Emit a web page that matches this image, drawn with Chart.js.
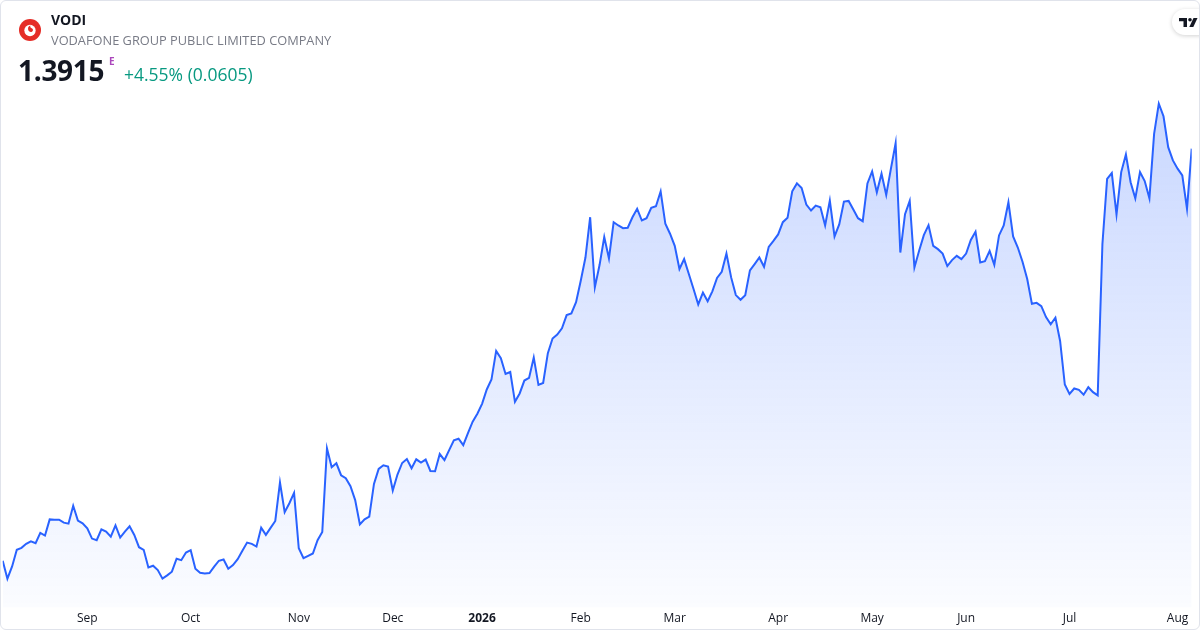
<!DOCTYPE html>
<html>
<head>
<meta charset="utf-8">
<script src="https://cdn.jsdelivr.net/npm/chart.js@4.4.1/dist/chart.umd.min.js"></script>
<style>
  html, body { margin: 0; padding: 0; background: #fff; }
  body { width: 1200px; height: 630px; overflow: hidden; font-family: "Open Sans", "Noto Sans", sans-serif; }
  #card { position: absolute; left: 0; top: 0; width: 1198px; height: 628px; border: 1px solid #e0e3eb; border-radius: 6px; overflow: hidden; background: #fff; }
  #c { position: absolute; left: 0; top: 0; }
  .t { position: absolute; white-space: nowrap; }
  #sym { left: 50px; top: 10px; font-size: 14px; font-weight: 700; color: #131722; line-height: 18px; }
  #name { left: 50px; top: 31px; font-size: 12.8px; color: #787b86; line-height: 17px; }
  #price { left: 17px; top: 52px; font-size: 28px; font-weight: 700; color: #131722; line-height: 34px; letter-spacing: -0.3px; }
  #e { left: 108px; top: 54px; font-size: 10px; font-weight: 700; color: #ab47bc; line-height: 12px; }
  #chg { left: 123px; top: 61px; font-size: 17.5px; color: #089981; line-height: 24px; }
  #logo { position: absolute; left: 18px; top: 18px; }
  #tv { position: absolute; left: 1171px; top: 8px; width: 40px; height: 26px; background: #fff; border-radius: 13px; box-shadow: 0 1px 4px rgba(0,0,0,0.18); }
  #tv svg { position: absolute; left: 7px; top: 9px; }
</style>
</head>
<body>
<div id="card">
  <canvas id="c" width="1200" height="630"></canvas>
  <svg id="logo" width="22" height="22" viewBox="0 0 24 24">
    <circle cx="12" cy="12" r="12" fill="#e52d27"/>
    <circle cx="12" cy="12.6" r="6.2" fill="#fff"/>
    <path d="M12.6 7.2 C10.8 7.4 9.6 9.2 9.9 11.2 C10.2 13.3 12.0 14.6 13.6 14.2 C15.0 13.8 15.6 12.3 15.0 11.0 C14.3 9.8 12.4 9.9 12.2 8.4 Z" fill="#e52d27"/>
  </svg>
  <div class="t" id="sym">VODI</div>
  <div class="t" id="name">VODAFONE GROUP PUBLIC LIMITED COMPANY</div>
  <div class="t" id="price">1.3915</div>
  <div class="t" id="e">E</div>
  <div class="t" id="chg">+4.55% (0.0605)</div>
  <div id="tv">
    <svg width="22" height="9" viewBox="0 0 22 9">
      <path d="M0 0 H8 V9 H4.5 V3.2 H0 Z" fill="#131722"/>
      <circle cx="11" cy="1.8" r="1.8" fill="#131722"/>
      <path d="M14.5 0 H18.5 L14.3 9 H10.3 Z" fill="#131722"/>
    </svg>
  </div>
</div>
<script>
// daily closes, early Aug 2025 -> early Aug 2026
const closes = [
  0.9772, 0.9592, 0.9715, 0.9882, 0.9902, 0.9942, 0.9968, 0.9948, 1.0052, 1.0025,
  1.0188, 1.0185, 1.0185, 1.0155, 1.0145, 1.0325, 1.0175, 1.0148, 1.0098, 0.9995,
  0.9978, 1.0088, 1.0065, 1.0015, 1.0128, 1.0005, 1.0065, 1.0118, 1.0032, 0.9908,
  0.9882, 0.9705, 0.9722, 0.9678, 0.9592, 0.9625, 0.9662, 0.9792, 0.9778, 0.9855,
  0.9878, 0.9692, 0.9652, 0.9645, 0.9648, 0.9712, 0.9772, 0.9785, 0.9692, 0.9728,
  0.9788, 0.9872, 0.9955, 0.9942, 0.9915, 1.0105, 1.0032, 1.0102, 1.0172, 1.0559,
  1.0260, 1.0350, 1.0455, 0.9898, 0.9798, 0.9822, 0.9845, 0.9978, 1.0062, 1.0902,
  1.0712, 1.0752, 1.0632, 1.0602, 1.0522, 1.0382, 1.0138, 1.0188, 1.0215, 1.0545,
  1.0695, 1.0732, 1.0719, 1.0479, 1.0639, 1.0755, 1.0795, 1.0702, 1.0792, 1.0759,
  1.0789, 1.0675, 1.0672, 1.0845, 1.0785, 1.0885, 1.0982, 1.0999, 1.0935, 1.1055,
  1.1170, 1.1250, 1.1350, 1.1494, 1.1594, 1.1882, 1.1809, 1.1650, 1.1670, 1.1370,
  1.1454, 1.1584, 1.1610, 1.1815, 1.1540, 1.1560, 1.1859, 1.2007, 1.2047, 1.2109,
  1.2242, 1.2259, 1.2372, 1.2588, 1.2821, 1.3226, 1.2521, 1.2745, 1.3026, 1.2811,
  1.3176, 1.3143, 1.3116, 1.3120, 1.3226, 1.3310, 1.3193, 1.3216, 1.3320, 1.3336,
  1.3486, 1.3160, 1.3060, 1.2938, 1.2705, 1.2805, 1.2655, 1.2505, 1.2349, 1.2468,
  1.2381, 1.2481, 1.2615, 1.2678, 1.2861, 1.2621, 1.2443, 1.2396, 1.2441, 1.2691,
  1.2755, 1.2821, 1.2728, 1.2928, 1.2988, 1.3053, 1.3176, 1.3220, 1.3486, 1.3566,
  1.3520, 1.3353, 1.3293, 1.3343, 1.3326, 1.3143, 1.3393, 1.3033, 1.3153, 1.3383,
  1.3390, 1.3303, 1.3216, 1.3186, 1.3566, 1.3687, 1.3476, 1.3664, 1.3450, 1.3714,
  1.3970, 1.2871, 1.3256, 1.3390, 1.2721, 1.2888, 1.3046, 1.3146, 1.2938, 1.2905,
  1.2861, 1.2735, 1.2795, 1.2838, 1.2805, 1.2861, 1.2998, 1.3080, 1.2771, 1.2785,
  1.2888, 1.2748, 1.3043, 1.3143, 1.3376, 1.3033, 1.2921, 1.2778, 1.2605, 1.2355,
  1.2365, 1.2332, 1.2222, 1.2149, 1.2215, 1.1982, 1.1544, 1.1450, 1.1504, 1.1490,
  1.1442, 1.1517, 1.1467, 1.1435, 1.2955, 1.3612, 1.3670, 1.3253, 1.3680, 1.3857,
  1.3578, 1.3416, 1.3680, 1.3590, 1.3416, 1.4064, 1.4368, 1.4241, 1.3930, 1.3797,
  1.3714, 1.3647, 1.3310, 1.3915
];

// month labels and the bar index where each month starts
const tickLabels = ['Sep', 'Oct', 'Nov', 'Dec', '2026', 'Feb', 'Mar', 'Apr', 'May', 'Jun', 'Jul', 'Aug'];
const tickIdx = [18, 40, 63, 83, 102, 123, 143, 165, 185, 205, 227, 250];

const points = closes.map((v, i) => ({ x: i, y: v }));

function fillGradient(context) {
  const chart = context.chart;
  const area = chart.chartArea;
  if (!area) return 'rgba(41,98,255,0.15)';
  const g = chart.ctx.createLinearGradient(0, area.top, 0, area.bottom);
  g.addColorStop(0, 'rgba(41,98,255,0.30)');
  g.addColorStop(0.35, 'rgba(41,98,255,0.20)');
  g.addColorStop(1, 'rgba(41,98,255,0.02)');
  return g;
}

new Chart(document.getElementById('c'), {
  type: 'line',
  data: {
    datasets: [{
      data: points,
      borderColor: '#2962ff',
      borderWidth: 2,
      backgroundColor: fillGradient,
      fill: 'start',
      pointRadius: 0,
      tension: 0
    }]
  },
  options: {
    responsive: false,
    animation: false,
    layout: { padding: { left: 1.7, right: 9.3, top: 0, bottom: 1 } },
    plugins: { legend: { display: false }, tooltip: { enabled: false } },
    scales: {
      x: {
        type: 'linear',
        min: 0,
        max: closes.length - 1,
        grid: { display: false, drawTicks: false },
        border: { display: false },
        afterBuildTicks: (axis) => { axis.ticks = tickIdx.map(v => ({ value: v })); },
        ticks: {
          autoSkip: false,
          maxRotation: 0,
          padding: 4,
          color: '#131722',
          font: (ctx) => ({
            family: '"Open Sans", "Noto Sans", sans-serif',
            size: 12,
            weight: ctx.tick && ctx.tick.value === 102 ? 'bold' : 'normal'
          }),
          callback: (value) => {
            const k = tickIdx.indexOf(value);
            return k >= 0 ? tickLabels[k] : '';
          }
        }
      },
      y: {
        display: false,
        min: 0.9301,
        max: 1.540
      }
    }
  }
});
</script>
</body>
</html>
